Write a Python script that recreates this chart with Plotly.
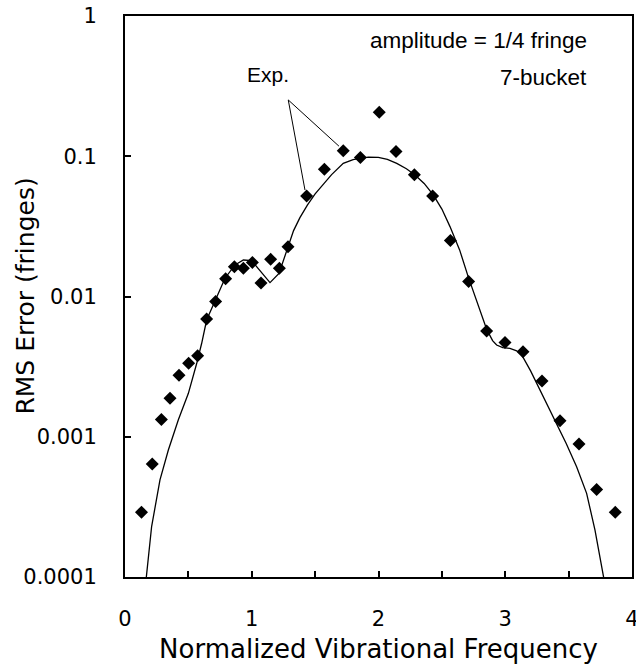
import plotly.graph_objects as go

# Experimental points (diamonds)
exp_x = [0.13, 0.215, 0.287, 0.355, 0.426, 0.502, 0.573, 0.644, 0.715, 0.794,
         0.863, 0.934, 1.005, 1.073, 1.149, 1.218, 1.286, 1.433, 1.573, 1.722,
         1.857, 2.006, 2.138, 2.283, 2.427, 2.567, 2.711, 2.853, 2.998, 3.14,
         3.29, 3.432, 3.582, 3.721, 3.868]
exp_y = [2.9e-4, 6.4e-4, 1.33e-3, 1.88e-3, 2.75e-3, 3.34e-3, 3.78e-3, 6.9e-3, 9.2e-3, 0.0134,
         0.0163, 0.0159, 0.0175, 0.0125, 0.0184, 0.0159, 0.0226, 0.052, 0.0807, 0.1096,
         0.098, 0.206, 0.108, 0.0739, 0.052, 0.0251, 0.0128, 5.67e-3, 4.69e-3, 4.04e-3,
         2.5e-3, 1.3e-3, 8.87e-4, 4.2e-4, 2.89e-4]

# Theory curve
th_x = [0.163, 0.21, 0.276, 0.342, 0.421, 0.5, 0.566, 0.605, 0.644, 0.71,
        0.789, 0.868, 0.934, 1.0, 1.144, 1.215, 1.289, 1.33, 1.38, 1.44, 1.50,
        1.56, 1.63, 1.722, 1.80, 1.854, 1.92, 1.999, 2.07, 2.144, 2.22, 2.288, 2.36,
        2.432, 2.50, 2.564, 2.64, 2.708, 2.78, 2.853,
        2.90, 2.932, 2.98, 3.037, 3.09, 3.13, 3.20, 3.274, 3.34, 3.406, 3.48,
        3.563, 3.642, 3.708, 3.774, 3.785]
th_y = [9.0e-5, 2.29e-4, 4.92e-4, 8.05e-4, 1.32e-3, 2.04e-3, 3.34e-3, 4.64e-3, 6.8e-3, 9.2e-3,
        0.0135, 0.0168, 0.0182, 0.018, 0.01256, 0.0146, 0.0229, 0.0295, 0.0365, 0.0450, 0.0540,
        0.0630, 0.0740, 0.0891, 0.0945, 0.0966, 0.0985, 0.0983, 0.0950, 0.089, 0.0815, 0.0735, 0.0640,
        0.053, 0.0420, 0.0315, 0.0215, 0.0138, 0.0091, 5.85e-3,
        4.85e-3, 4.51e-3, 4.32e-3, 4.27e-3, 4.10e-3, 3.83e-3, 2.95e-3, 2.15e-3, 1.65e-3, 1.25e-3, 9.0e-4,
        6.11e-4, 3.95e-4, 2.16e-4, 1.06e-4, 9.0e-5]

# Leader lines for the "Exp." label
leader_x = [1.42, 1.288, 1.688]
leader_y = [0.0574, 0.252, 0.118]

x_tickvals = [0, 0.5, 1, 1.5, 2, 2.5, 3, 3.5, 4]
x_ticktext = ["0", "", "1", "", "2", "", "3", "", "4"]
y_tickvals = [1e-4, 1e-3, 1e-2, 1e-1, 1]
y_ticktext = ["0.0001", "0.001", "0.01", "0.1", "1"]

axis_font = "DejaVu Sans"
note_font = "Liberation Sans"

fig = go.Figure()
fig.add_trace(go.Scatter(x=th_x, y=th_y, mode="lines",
                         line=dict(color="black", width=1.3), showlegend=False))
fig.add_trace(go.Scatter(x=leader_x, y=leader_y, mode="lines",
                         line=dict(color="black", width=1), showlegend=False))
fig.add_trace(go.Scatter(x=exp_x, y=exp_y, mode="markers",
                         marker=dict(symbol="diamond", size=10, color="black"),
                         showlegend=False))

fig.update_layout(
    width=636, height=665,
    margin=dict(l=125, r=4, t=16, b=88),
    paper_bgcolor="white", plot_bgcolor="white",
    annotations=[
        dict(x=3.66, y=-0.178, xref="x", yref="y", text="amplitude = 1/4 fringe",
             showarrow=False, xanchor="right", yanchor="middle",
             font=dict(family=note_font, size=22.5, color="black")),
        dict(x=3.66, y=-0.435, xref="x", yref="y", text="7-bucket",
             showarrow=False, xanchor="right", yanchor="middle",
             font=dict(family=note_font, size=22.5, color="black")),
        dict(x=1.13, y=-0.42, xref="x", yref="y", text="Exp.",
             showarrow=False, xanchor="center", yanchor="middle",
             font=dict(family=note_font, size=21, color="black")),
        dict(x=-0.197, y=0.5, xref="paper", yref="paper", text="RMS Error (fringes)",
             showarrow=False, textangle=-90, xanchor="center", yanchor="middle",
             font=dict(family=axis_font, size=25, color="black")),
    ],
    xaxis=dict(range=[0, 4], tickvals=x_tickvals, ticktext=x_ticktext,
               ticks="inside", ticklen=6, tickwidth=1.5, tickcolor="black",
               showline=True, linewidth=2, linecolor="black", mirror=True,
               showgrid=False, zeroline=False, ticklabelstandoff=22,
               ticklabeloverflow="allow", automargin=False,
               tickfont=dict(family=axis_font, size=21, color="black"),
               title=dict(text="Normalized Vibrational Frequency", standoff=10,
                          font=dict(family=axis_font, size=26, color="black"))),
    yaxis=dict(type="log", range=[-4, 0], tickvals=y_tickvals, ticktext=y_ticktext,
               ticks="inside", ticklen=6, tickwidth=1.5, tickcolor="black",
               showline=True, linewidth=2, linecolor="black", mirror=True,
               showgrid=False, zeroline=False, ticklabelstandoff=22,
               ticklabeloverflow="allow", automargin=False,
               tickfont=dict(family=axis_font, size=21, color="black")),
)

fig.write_html("out.html")
